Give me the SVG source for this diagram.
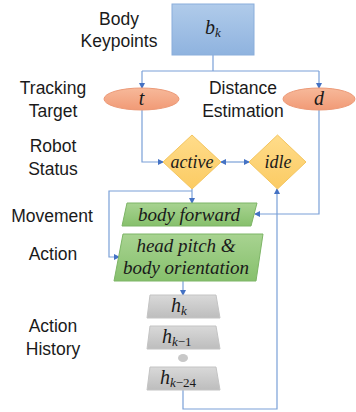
<svg xmlns="http://www.w3.org/2000/svg" width="356" height="412" viewBox="0 0 356 412">
<defs>
<linearGradient id="gBlue" x1="0" y1="0" x2="0" y2="1"><stop offset="0" stop-color="#b0cbea"/><stop offset="1" stop-color="#8fb3df"/></linearGradient>
<linearGradient id="gOrange" x1="0" y1="0" x2="0" y2="1"><stop offset="0" stop-color="#f7b99a"/><stop offset="1" stop-color="#f19a76"/></linearGradient>
<linearGradient id="gYellow" x1="0" y1="0" x2="0" y2="1"><stop offset="0" stop-color="#ffdc8a"/><stop offset="1" stop-color="#fbcb63"/></linearGradient>
<linearGradient id="gGreen" x1="0" y1="0" x2="0" y2="1"><stop offset="0" stop-color="#a8d391"/><stop offset="1" stop-color="#86c06c"/></linearGradient>
<linearGradient id="gGray" x1="0" y1="0" x2="0" y2="1"><stop offset="0" stop-color="#d9d9d9"/><stop offset="1" stop-color="#bdbdbd"/></linearGradient>
<marker id="arr" markerWidth="6" markerHeight="6" refX="5" refY="3" orient="auto" markerUnits="userSpaceOnUse"><path d="M0,0 L6,3 L0,6 z" fill="#4472c4"/></marker>
<marker id="arrS" markerWidth="6" markerHeight="6" refX="1" refY="3" orient="auto" markerUnits="userSpaceOnUse"><path d="M6,0 L0,3 L6,6 z" fill="#4472c4"/></marker>
</defs>
<style>
.lbl{font-family:"Liberation Sans",Arial,sans-serif;font-size:17.5px;fill:#1a1a1a;text-anchor:middle}
.m{font-family:"Liberation Serif","DejaVu Serif",serif;font-style:italic;fill:#1a1a1a}
.conn{fill:none;stroke:#7aa0d8;stroke-width:1.2}
</style>
<g id="labels">
<text class="lbl" x="119" y="25">Body</text>
<text class="lbl" x="119" y="47">Keypoints</text>
<text class="lbl" x="53" y="94">Tracking</text>
<text class="lbl" x="53" y="117">Target</text>
<text class="lbl" x="243" y="94">Distance</text>
<text class="lbl" x="243" y="117">Estimation</text>
<text class="lbl" x="53" y="152">Robot</text>
<text class="lbl" x="53" y="175">Status</text>
<text class="lbl" x="52" y="222">Movement</text>
<text class="lbl" x="53" y="260">Action</text>
<text class="lbl" x="53" y="332">Action</text>
<text class="lbl" x="53" y="355">History</text>
</g>
<g id="connectors">
<path class="conn" d="M213,55 V71 M142,71 H319"/>
<path class="conn" d="M142,71 V88" marker-end="url(#arr)"/>
<path class="conn" d="M319,71 V88" marker-end="url(#arr)"/>
<path class="conn" d="M142,110 V162 H163" marker-end="url(#arr)"/>
<path class="conn" d="M221,162 H249" marker-start="url(#arrS)" marker-end="url(#arr)"/>
<path class="conn" d="M319,110 V214 H255" marker-end="url(#arr)"/>
<path class="conn" d="M192,189 V203" marker-end="url(#arr)"/>
<path class="conn" d="M192,191 H109 V257 H119" marker-end="url(#arr)"/>
<path class="conn" d="M183,281 V295" marker-end="url(#arr)"/>
<path class="conn" d="M183,390 V409 H277 V189" marker-end="url(#arr)"/>
</g>
<g id="node-bk">
<rect x="172" y="4" width="82" height="51" fill="url(#gBlue)" stroke="#8aaedb" stroke-width="1"/>
<text class="m" x="205" y="34" font-size="20">b<tspan font-size="13" dy="3">k</tspan></text>
</g>
<g id="node-t">
<ellipse cx="141.5" cy="99" rx="37.5" ry="11" fill="url(#gOrange)" stroke="#ec9a78" stroke-width="1"/>
<text class="m" x="141.5" y="105" font-size="20" text-anchor="middle">t</text>
</g>
<g id="node-d">
<ellipse cx="319" cy="99" rx="36" ry="11" fill="url(#gOrange)" stroke="#ec9a78" stroke-width="1"/>
<text class="m" x="319" y="105" font-size="20" text-anchor="middle">d</text>
</g>
<g id="node-active">
<polygon points="192,135 221,162 192,189 163,162" fill="url(#gYellow)" stroke="#f4c55e" stroke-width="1"/>
<text class="m" x="192" y="168" font-size="18" text-anchor="middle">active</text>
</g>
<g id="node-idle">
<polygon points="277.5,135 306,162 277.5,189 249,162" fill="url(#gYellow)" stroke="#f4c55e" stroke-width="1"/>
<text class="m" x="278" y="168" font-size="18" text-anchor="middle">idle</text>
</g>
<g id="node-body-forward">
<polygon points="127,203 257,203 251,226 122,226" fill="url(#gGreen)" stroke="#7db566" stroke-width="1"/>
<text class="m" x="189" y="221" font-size="19" text-anchor="middle">body forward</text>
</g>
<g id="node-head-pitch">
<polygon points="123,234 263,234 256,281 114,281" fill="url(#gGreen)" stroke="#7db566" stroke-width="1"/>
<text class="m" x="186" y="252" font-size="19" text-anchor="middle">head pitch &amp;</text>
<text class="m" x="186" y="274" font-size="19" text-anchor="middle">body orientation</text>
</g>
<g id="node-hk">
<polygon points="150,295 216,295 220,318 147,318" fill="url(#gGray)" stroke="#c4c4c4" stroke-width="1"/>
<text class="m" x="171" y="312" font-size="20">h<tspan font-size="13" dy="3">k</tspan></text>
</g>
<g id="node-hk1">
<polygon points="150,326 216,326 220,349 147,349" fill="url(#gGray)" stroke="#c4c4c4" stroke-width="1"/>
<text class="m" x="162" y="343" font-size="20">h<tspan font-size="13" dy="3">k</tspan><tspan font-style="normal" font-size="13">−1</tspan></text>
</g>
<g id="node-dot">
<ellipse cx="183" cy="358" rx="5" ry="4" fill="#c8c8c8"/>
</g>
<g id="node-hk24">
<polygon points="150,367 216,367 220,390 147,390" fill="url(#gGray)" stroke="#c4c4c4" stroke-width="1"/>
<text class="m" x="160" y="384" font-size="20">h<tspan font-size="13" dy="3">k</tspan><tspan font-style="normal" font-size="13">−24</tspan></text>
</g>
</svg>
